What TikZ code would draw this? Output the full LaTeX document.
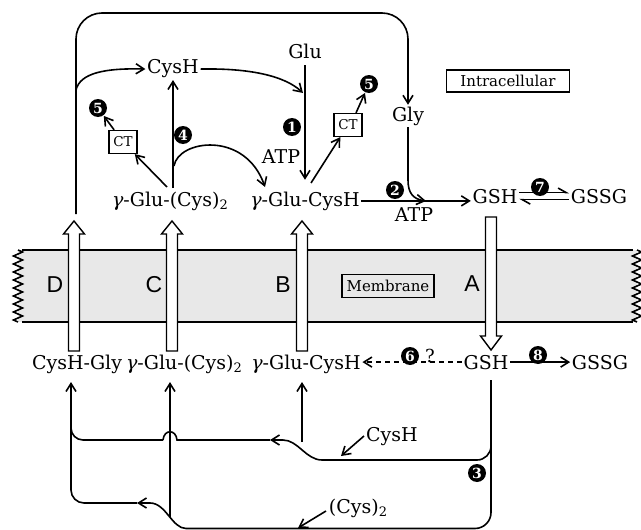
\documentclass[tikz,border=0pt]{standalone}
\usepackage{fontspec}
\setmainfont{DejaVu Serif}
\setsansfont{Liberation Sans}
\usetikzlibrary{arrows.meta,decorations.pathmorphing}
\newcommand{\subtwo}{\raisebox{-0.4ex}{\fontsize{13}{13}\selectfont 2}}
\newcommand{\gam}{{\itshape γ}}
\begin{document}
\begin{tikzpicture}[x=1pt,y=-1pt,line width=1.6pt,
  ar/.style={-{Straight Barb[length=8pt,width=10pt]}},
  txt/.style={font=\fontsize{19}{22}\selectfont, inner sep=1pt, anchor=base},
  num/.style={circle, fill=black, text=white, inner sep=0pt, minimum size=18pt,
              font=\bfseries\fontsize{14}{14}\selectfont},
  ctbox/.style={draw, line width=1.2pt, inner sep=1pt, minimum width=28pt, minimum height=23pt,
              font=\fontsize{13.5}{13.5}\selectfont},
  labbox/.style={draw, line width=1.2pt, inner sep=2pt, font=\fontsize{15}{15}\selectfont},
  hollow/.style={draw, fill=white, line width=1.4pt, line join=miter},
  lbl/.style={font=\sffamily\fontsize{23}{23}\selectfont},
  zz/.style={decorate, decoration={zigzag, segment length=8pt, amplitude=4.5pt}}]
\useasboundingbox (0,0) rectangle (641,530);

% membrane
\fill[black!9] (18,250) rectangle (637,322);
\draw (22,250) -- (633,250);
\draw (22,322) -- (633,322);
\draw[zz] (18,250) -- (18,322);
\draw[zz] (637,250) -- (637,322);

% hollow transport arrows
\foreach \x in {74,172,302} {
  \draw[hollow] (\x-5.5,351) -- (\x-5.5,234) -- (\x-10.5,234) -- (\x,221) -- (\x+10.5,234) -- (\x+5.5,234) -- (\x+5.5,351) -- cycle;
}
\draw[hollow] (485.5,217) -- (485.5,336) -- (480.5,336) -- (491,350) -- (501.5,336) -- (496.5,336) -- (496.5,217) -- cycle;

\node[lbl] (lD) at (55,285) {D};
\node[lbl] (lC) at (154,285) {C};
\node[lbl] (lB) at (283,285) {B};
\node[lbl] (lA) at (472,284) {A};
\node[labbox, minimum width=92pt, minimum height=23pt] (memb) at (388,286) {Membrane};
\node[labbox, minimum width=123pt, minimum height=22pt] (intra) at (508,81) {Intracellular};

% upper texts
\node[txt] (cysT) at (173,74) {CysH};
\node[txt] (glu) at (305,58) {Glu};
\node[txt] (gly) at (408,121) {Gly};
\node[txt] (g2u) at (170,206) {\gam-Glu-(Cys)\subtwo};
\node[txt] (gcu) at (305,206) {\gam-Glu-CysH};
\node[txt] (gshU) at (495,203) {GSH};
\node[txt] (gssgU) at (599,203) {GSSG};
\node[txt] (atp1) at (281,163) {ATP};
\node[txt] (atp2) at (414,221) {ATP};
\node[ctbox] (ctL) at (123,142) {CT};
\node[ctbox] (ctR) at (348,125) {CT};

% lower texts
\node[txt] (cysgly) at (77,369) {CysH-Gly};
\node[txt] (g2l) at (184,369) {\gam-Glu-(Cys)\subtwo};
\node[txt] (gcl) at (306,369) {\gam-Glu-CysH};
\node[txt] (gshL) at (486,369) {GSH};
\node[txt] (gssgL) at (600,369) {GSSG};
\node[txt, font=\fontsize{18}{18}\selectfont] (q) at (430,362) {?};
\node[txt] (cysLab) at (392,441) {CysH};
\node[txt] (cys2Lab) at (358,513) {(Cys)\subtwo};

% numbered circles
\node[num] (n1) at (292,127) {1};
\node[num] (n2) at (395,190) {2};
\node[num] (n3) at (477,473) {3};
\node[num] (n4) at (183,135) {4};
\node[num] (n5L) at (98,108) {5};
\node[num] (n5R) at (369,84) {5};
\node[num] (n6) at (410,356) {6};
\node[num] (n7) at (540,187) {7};
\node[num] (n8) at (538,355) {8};

% coordinates
\coordinate (dtop) at (76,214);
\coordinate (brc) at (76,90);
\coordinate (gluHit) at (303,93);
\coordinate (gcuT) at (311,183);
\coordinate (g2uT) at (167,187);
\coordinate (g2uV) at (173,188);
\coordinate (a4s) at (174,166);
\coordinate (a4e) at (265,187);
\coordinate (glyHit) at (426,201);
\coordinate (gsB) at (491,380);
\coordinate (cysLa) at (364,436);
\coordinate (cysLb) at (341,456);
\coordinate (cys2a) at (326,511);
\coordinate (cys2b) at (298,528);
\coordinate (vD) at (71,503);
\coordinate (vC) at (170,517);
\coordinate (vB) at (302,442);

% top loop
\draw[ar, rounded corners=26pt] (dtop) -- (76,13) -- (408,13) -- (gly.north);
\draw[ar] (brc) .. controls (80,73) and (105,68) .. (cysT.west);
\draw[ar] (cysT.east) .. controls (250,68) and (285,76) .. (gluHit);
\draw[ar, shorten <=5pt, shorten >=10pt] (glu.south) -- (gcu.north);
\draw[ar] (gcuT) -- (ctR);
\draw[ar] ([xshift=8pt]ctR.north) -- (n5R);
\draw[ar] (g2uT) -- (ctL);
\draw[ar] (ctL) -- (n5L);
\draw[ar] (g2uV) -- (cysT.south);
\draw[ar] (a4s) .. controls (178,140) and (245,130) .. (a4e);

% GSH synthesis
\draw[ar] (gcu.east) -- (gcu.east -| gshU.west);
\draw[ar] (gly.south) -- (408,180) .. controls (408,193) and (413,199) .. (glyHit);
\draw[-{Straight Barb[left,length=8pt,width=9pt]}] ([yshift=3.5pt]gshU.east) -- ([yshift=3.5pt]gshU.east -| gssgU.west);
\draw[-{Straight Barb[left,length=8pt,width=9pt]}] ([yshift=-3.5pt]gssgU.west) -- ([yshift=-3.5pt]gssgU.west -| gshU.east);

% lower row
\draw[ar, dashed, dash pattern=on 5pt off 4pt] (gshL.west) -- (gshL.west -| gcl.east);
\draw[ar] (gshL.east) -- (gshL.east -| gssgL.west);

% bottom network: (Cys)2 route
\draw[rounded corners=16pt] (gsB) -- (491,528.5) -- (186,528.5);
\draw (186,528.5) .. controls (172,528.5) and (166,503) .. (150,503);
\draw[ar] (150,503) -- (137,503);
\draw[ar, rounded corners=13pt, shorten >=7pt] (137,503) -- (vD) -- (vD |- cysgly.south);
\draw[ar, shorten >=7pt] (vC) -- (vC |- g2l.south);

% CysH route
\draw[rounded corners=14pt] (491,425) -- (491,460) -- (322,460);
\draw (322,460) .. controls (306,460) and (298,440) .. (283,440);
\draw[ar, shorten >=7pt] (vB) -- (vB |- gcl.south);
\draw[ar] (283,440) -- (270,440);
\draw (270,440) -- (177,440) .. controls (176,429) and (164,429) .. (163,440);
\draw[rounded corners=12pt] (163,440) -- (71,440) -- (71,420);

% label arrows
\draw[ar] (cysLa) -- (cysLb);
\draw[ar] (cys2a) -- (cys2b);
\end{tikzpicture}
\end{document}
